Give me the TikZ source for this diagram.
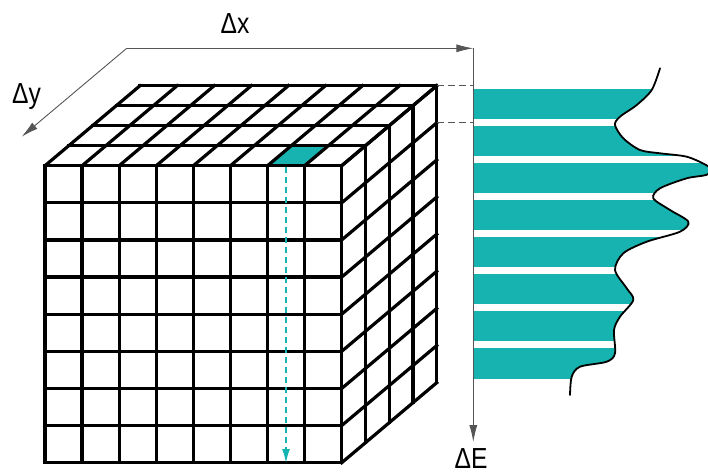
\documentclass[tikz,border=0pt]{standalone}
\usepackage{fontspec}
\usepackage{graphicx}
\setmainfont{Liberation Sans}
\usetikzlibrary{arrows.meta}
\definecolor{tealfill}{RGB}{22,179,177}
\definecolor{axisgray}{RGB}{85,85,85}
\newcommand{\lbltext}[1]{\scalebox{0.85}[1]{\fontsize{29}{31}\selectfont #1}}
\begin{document}
\begin{tikzpicture}[x=1pt,y=-1pt,
  cube/.style={line width=3.2pt, black, line cap=rect, line join=miter},
  axis/.style={line width=0.9pt, axisgray},
  axistip/.style={-{Latex[length=17pt,width=8pt]}},
  guide/.style={line width=1pt, axisgray, dash pattern=on 7pt off 4pt},
  spec/.style={line width=1.8pt, black, line cap=round},
  lab/.style={inner sep=0pt, anchor=base, text=black}
]
\useasboundingbox (0,0) rectangle (708,474);

% named coordinates
\coordinate (O) at (126.7,48.3);
\coordinate (X) at (473.3,48.3);
\coordinate (Y) at (21.7,136.7);
\coordinate (E) at (473.3,442);
\coordinate (BR) at (436.7,85);
\coordinate (BR1) at (436.7,122.1);
\coordinate (G0) at (473.3,85);
\coordinate (G1) at (473.3,122.1);
\coordinate (CT) at (286,166.5);
\coordinate (CB) at (286,463);

% highlighted top cell
\fill[tealfill] (267.6,165.7) -- (304.7,165.7) -- (328.45,145.7) -- (291.35,145.7) -- cycle;

% cube: front face
\foreach \i in {0,...,8} \draw[cube] ({45+\i*37.0875},165.7) -- ++(0,297);
\foreach \i in {0,...,8} \draw[cube] (45,{165.7+\i*37.125}) -- ++(296.7,0);
% top face
\foreach \i in {0,...,8} \draw[cube] ({45+\i*37.0875},165.7) -- ++(95,-80);
\foreach \j in {0,...,4} \draw[cube] ({45+\j*23.75},{165.7-\j*20}) -- ++(296.7,0);
% right face
\foreach \j in {0,...,4} \draw[cube] ({341.7+\j*23.75},{165.7-\j*20}) -- ++(0,297);
\foreach \i in {0,...,8} \draw[cube] (341.7,{165.7+\i*37.125}) -- ++(95,-80);

% cyan dashed arrow down the column
\draw[tealfill, line width=1.5pt, dash pattern=on 6pt off 4pt, -{Latex[length=14pt,width=8pt]}] (CT) -- (CB);

% axes
\draw[axis, axistip] (O) -- (X);
\draw[axis, axistip] (O) -- (Y);
\draw[axis, axistip] (X) -- (E);
\draw[guide] (BR) -- (G0);
\draw[guide] (BR1) -- (G1);

% spectrum bands
\begin{scope}
\clip (474,68.3) -- plot[smooth,tension=0.5] coordinates {(660,68.3) (651.7,90) (636.7,105) (620,116.7) (615,125) (623.3,138.3) (640,150) (660,153.3) (686.7,156.7) (706,165) (711,170) (706,175) (686.7,178.3) (660,188.3) (653.3,198.3) (670,210) (688.3,221.7) (680,231.7) (646.7,241.7) (623.3,253.3) (615,270) (626.7,288.3) (633.3,300) (620,316.7) (614,330) (615,353.3) (606.7,361.7) (580,366.7) (571.7,376.7) (570,395)} -- (474,395) -- cycle;
\foreach \k in {0,...,7} \fill[tealfill] (474,{85+\k*37.125+3.5}) rectangle (720,{85+(\k+1)*37.125-3.5});
\end{scope}
\draw[spec] plot[smooth,tension=0.5] coordinates {(660,68.3) (651.7,90) (636.7,105) (620,116.7) (615,125) (623.3,138.3) (640,150) (660,153.3) (686.7,156.7) (706,165) (711,170) (706,175) (686.7,178.3) (660,188.3) (653.3,198.3) (670,210) (688.3,221.7) (680,231.7) (646.7,241.7) (623.3,253.3) (615,270) (626.7,288.3) (633.3,300) (620,316.7) (614,330) (615,353.3) (606.7,361.7) (580,366.7) (571.7,376.7) (570,395)};

% labels
\node[lab] (dx) at (235,33.3) {\lbltext{Δx}};
\node[lab, anchor=base west] (dy) at (12,103.3) {\lbltext{Δy}};
\node[lab] (de) at (471,468) {\lbltext{ΔE}};
\end{tikzpicture}
\end{document}
